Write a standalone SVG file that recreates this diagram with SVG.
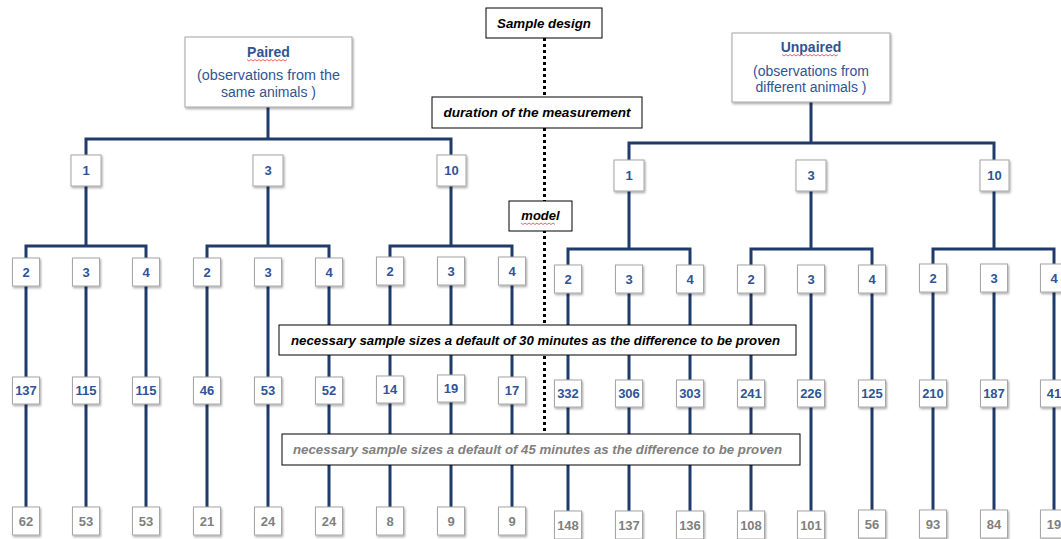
<svg xmlns="http://www.w3.org/2000/svg" width="1061" height="539" viewBox="0 0 1061 539">
<defs>
<filter id="sh" x="-30%" y="-30%" width="160%" height="160%">
<feDropShadow dx="1" dy="1.5" stdDeviation="1" flood-color="#000" flood-opacity="0.35"/>
</filter>
<style>
text{font-family:"Liberation Sans",Arial,sans-serif;text-anchor:middle;dominant-baseline:central}
.conn{fill:none;stroke:#1F3B6B;stroke-width:3}
.dot{fill:none;stroke:#000;stroke-width:3;stroke-dasharray:3 3}
.box{fill:#fff;stroke:#A6A6A6;stroke-width:1;filter:url(#sh)}
.lbl{fill:#fff;stroke:#000;stroke-width:1}
.num{fill:#2F5496;font-weight:bold;font-size:13px}
.leaf{fill:#7F7F7F;font-weight:bold;font-size:13px}
.hd{fill:#2F5496;font-weight:bold;font-size:14px}
.sub{fill:#2F5496;font-size:14px}
.it{fill:#000;font-weight:bold;font-style:italic;font-size:13px}
.itg{fill:#808080;font-weight:bold;font-style:italic;font-size:13px}
.sq{fill:none;stroke:#E04040;stroke-width:0.8}
</style>
</defs>
<rect width="1061" height="539" fill="#fff"/>

<g id="connectors">
<path class="conn" d="M268 107V139M86 160V139H451V160"/>
<path class="conn" d="M86 186V246M268 186V246M451 186V246"/>
<path class="conn" d="M26 262V246H146V262M207 262V246H329V262M390 262V246H512V262"/>
<path class="conn" d="M26 262V510M86 262V510M146 262V510M207 262V510M268 262V510M329 262V510M390 262V510M451 262V510M512 262V510"/>
<path class="conn" d="M811 102V143M629 163V143H994V163"/>
<path class="conn" d="M629 190V249M811 190V249M994 190V249"/>
<path class="conn" d="M568 268V249H690V268M751 268V249H872V268M933 268V249H1054V268"/>
<path class="conn" d="M568 268V514M629 268V514M690 268V514M751 268V514M811 268V514M872 268V514M933 268V514M994 268V514M1054 268V514"/>
<path class="dot" d="M544.5 38V434"/>
</g>

<g id="sample-design"><rect class="lbl" x="486" y="8" width="116" height="30"/><text class="it" x="544" y="23" textLength="94" lengthAdjust="spacingAndGlyphs">Sample design</text></g>
<g id="duration"><rect class="lbl" x="432" y="97" width="210" height="31"/><text class="it" x="537" y="112.5" textLength="187" lengthAdjust="spacingAndGlyphs">duration of the measurement</text></g>
<g id="model"><rect class="lbl" x="509" y="201" width="63" height="30"/><text class="it" x="540.5" y="215">model</text><path class="sq" d="M521 223l2 1.5 2-1.5 2 1.5 2-1.5 2 1.5 2-1.5 2 1.5 2-1.5 2 1.5 2-1.5 2 1.5 2-1.5 2 1.5 2-1.5 2 1.5 2-1.5 2 1.5"/></g>

<g id="paired"><rect class="box" x="185" y="37" width="167" height="70"/>
<text class="hd" x="268.5" y="52">Paired</text>
<path class="sq" d="M247 59.5l2 1.5 2-1.5 2 1.5 2-1.5 2 1.5 2-1.5 2 1.5 2-1.5 2 1.5 2-1.5 2 1.5 2-1.5 2 1.5 2-1.5 2 1.5 2-1.5 2 1.5 2-1.5 2 1.5 2-1.5"/>
<text class="sub" x="268.5" y="75" textLength="143" lengthAdjust="spacingAndGlyphs">(observations from the</text>
<text class="sub" x="268.5" y="92">same animals )</text></g>

<g id="unpaired"><rect class="box" x="732" y="33" width="158" height="69"/>
<text class="hd" x="811" y="47">Unpaired</text>
<path class="sq" d="M782 54.5l2 1.5 2-1.5 2 1.5 2-1.5 2 1.5 2-1.5 2 1.5 2-1.5 2 1.5 2-1.5 2 1.5 2-1.5 2 1.5 2-1.5 2 1.5 2-1.5 2 1.5 2-1.5 2 1.5 2-1.5 2 1.5 2-1.5 2 1.5 2-1.5 2 1.5 2-1.5 2 1.5 2-1.5"/>
<text class="sub" x="811" y="71">(observations from</text>
<text class="sub" x="811" y="87">different animals )</text></g>

<g id="p1"><rect class="box" x="71" y="155" width="30" height="31"/><text class="num" x="86" y="170.5">1</text></g>
<g id="p3"><rect class="box" x="253" y="155" width="30" height="31"/><text class="num" x="268" y="170.5">3</text></g>
<g id="p10"><rect class="box" x="437" y="155" width="29" height="31"/><text class="num" x="451.5" y="170.5">10</text></g>
<g id="u1"><rect class="box" x="614" y="160" width="30" height="31"/><text class="num" x="629" y="175.5">1</text></g>
<g id="u3"><rect class="box" x="796" y="160" width="30" height="31"/><text class="num" x="811" y="175.5">3</text></g>
<g id="u10"><rect class="box" x="980" y="160" width="29" height="31"/><text class="num" x="994.5" y="175.5">10</text></g>

<g id="p1-2"><rect class="box" x="12.5" y="258" width="27" height="28"/><text class="num" x="26" y="272">2</text></g>
<g id="p1-3"><rect class="box" x="72.5" y="258" width="27" height="28"/><text class="num" x="86" y="272">3</text></g>
<g id="p1-4"><rect class="box" x="132.5" y="258" width="27" height="28"/><text class="num" x="146" y="272">4</text></g>
<g id="p3-2"><rect class="box" x="193.5" y="258" width="27" height="28"/><text class="num" x="207" y="272">2</text></g>
<g id="p3-3"><rect class="box" x="254.5" y="258" width="27" height="28"/><text class="num" x="268" y="272">3</text></g>
<g id="p3-4"><rect class="box" x="315.5" y="258" width="27" height="28"/><text class="num" x="329" y="272">4</text></g>
<g id="p10-2"><rect class="box" x="376.5" y="257" width="27" height="28"/><text class="num" x="390" y="271">2</text></g>
<g id="p10-3"><rect class="box" x="437.5" y="257" width="27" height="28"/><text class="num" x="451" y="271">3</text></g>
<g id="p10-4"><rect class="box" x="498.5" y="257" width="27" height="28"/><text class="num" x="512" y="271">4</text></g>
<g id="u1-2"><rect class="box" x="554.5" y="265" width="27" height="28"/><text class="num" x="568" y="279">2</text></g>
<g id="u1-3"><rect class="box" x="615.5" y="265" width="27" height="28"/><text class="num" x="629" y="279">3</text></g>
<g id="u1-4"><rect class="box" x="676.5" y="265" width="27" height="28"/><text class="num" x="690" y="279">4</text></g>
<g id="u3-2"><rect class="box" x="737.5" y="265" width="27" height="28"/><text class="num" x="751" y="279">2</text></g>
<g id="u3-3"><rect class="box" x="797.5" y="265" width="27" height="28"/><text class="num" x="811" y="279">3</text></g>
<g id="u3-4"><rect class="box" x="858.5" y="265" width="27" height="28"/><text class="num" x="872" y="279">4</text></g>
<g id="u10-2"><rect class="box" x="919.5" y="264" width="27" height="28"/><text class="num" x="933" y="278">2</text></g>
<g id="u10-3"><rect class="box" x="980.5" y="264" width="27" height="28"/><text class="num" x="994" y="278">3</text></g>
<g id="u10-4"><rect class="box" x="1040.5" y="264" width="27" height="28"/><text class="num" x="1054" y="278">4</text></g>

<g id="p1-2-30"><rect class="box" x="12.5" y="377" width="27" height="27"/><text class="num" x="26" y="390.5">137</text></g>
<g id="p1-3-30"><rect class="box" x="72.5" y="377" width="27" height="27"/><text class="num" x="86" y="390.5">115</text></g>
<g id="p1-4-30"><rect class="box" x="132.5" y="377" width="27" height="27"/><text class="num" x="146" y="390.5">115</text></g>
<g id="p3-2-30"><rect class="box" x="193.5" y="377" width="27" height="27"/><text class="num" x="207" y="390.5">46</text></g>
<g id="p3-3-30"><rect class="box" x="254.5" y="377" width="27" height="27"/><text class="num" x="268" y="390.5">53</text></g>
<g id="p3-4-30"><rect class="box" x="315.5" y="377" width="27" height="27"/><text class="num" x="329" y="390.5">52</text></g>
<g id="p10-2-30"><rect class="box" x="376.5" y="376" width="27" height="27"/><text class="num" x="390" y="389.5">14</text></g>
<g id="p10-3-30"><rect class="box" x="437.5" y="375" width="27" height="27"/><text class="num" x="451" y="388.5">19</text></g>
<g id="p10-4-30"><rect class="box" x="498.5" y="377" width="27" height="27"/><text class="num" x="512" y="390.5">17</text></g>
<g id="u1-2-30"><rect class="box" x="554.5" y="380" width="27" height="27"/><text class="num" x="568" y="393.5">332</text></g>
<g id="u1-3-30"><rect class="box" x="615.5" y="380" width="27" height="27"/><text class="num" x="629" y="393.5">306</text></g>
<g id="u1-4-30"><rect class="box" x="676.5" y="380" width="27" height="27"/><text class="num" x="690" y="393.5">303</text></g>
<g id="u3-2-30"><rect class="box" x="737.5" y="380" width="27" height="27"/><text class="num" x="751" y="393.5">241</text></g>
<g id="u3-3-30"><rect class="box" x="797.5" y="380" width="27" height="27"/><text class="num" x="811" y="393.5">226</text></g>
<g id="u3-4-30"><rect class="box" x="858.5" y="380" width="27" height="27"/><text class="num" x="872" y="393.5">125</text></g>
<g id="u10-2-30"><rect class="box" x="919.5" y="380" width="27" height="27"/><text class="num" x="933" y="393.5">210</text></g>
<g id="u10-3-30"><rect class="box" x="980.5" y="380" width="27" height="27"/><text class="num" x="994" y="393.5">187</text></g>
<g id="u10-4-30"><rect class="box" x="1040.5" y="380" width="27" height="27"/><text class="num" x="1054" y="393.5">41</text></g>

<g id="p1-2-45"><rect class="box" x="12.5" y="507" width="27" height="28"/><text class="leaf" x="26" y="521">62</text></g>
<g id="p1-3-45"><rect class="box" x="72.5" y="507" width="27" height="28"/><text class="leaf" x="86" y="521">53</text></g>
<g id="p1-4-45"><rect class="box" x="132.5" y="507" width="27" height="28"/><text class="leaf" x="146" y="521">53</text></g>
<g id="p3-2-45"><rect class="box" x="193.5" y="507" width="27" height="28"/><text class="leaf" x="207" y="521">21</text></g>
<g id="p3-3-45"><rect class="box" x="254.5" y="507" width="27" height="28"/><text class="leaf" x="268" y="521">24</text></g>
<g id="p3-4-45"><rect class="box" x="315.5" y="507" width="27" height="28"/><text class="leaf" x="329" y="521">24</text></g>
<g id="p10-2-45"><rect class="box" x="376.5" y="507" width="27" height="28"/><text class="leaf" x="390" y="521">8</text></g>
<g id="p10-3-45"><rect class="box" x="437.5" y="507" width="27" height="28"/><text class="leaf" x="451" y="521">9</text></g>
<g id="p10-4-45"><rect class="box" x="498.5" y="507" width="27" height="28"/><text class="leaf" x="512" y="521">9</text></g>
<g id="u1-2-45"><rect class="box" x="554.5" y="511" width="27" height="28"/><text class="leaf" x="568" y="525">148</text></g>
<g id="u1-3-45"><rect class="box" x="615.5" y="511" width="27" height="28"/><text class="leaf" x="629" y="525">137</text></g>
<g id="u1-4-45"><rect class="box" x="676.5" y="511" width="27" height="28"/><text class="leaf" x="690" y="525">136</text></g>
<g id="u3-2-45"><rect class="box" x="737.5" y="511" width="27" height="28"/><text class="leaf" x="751" y="525">108</text></g>
<g id="u3-3-45"><rect class="box" x="797.5" y="511" width="27" height="28"/><text class="leaf" x="811" y="525">101</text></g>
<g id="u3-4-45"><rect class="box" x="858.5" y="510" width="27" height="28"/><text class="leaf" x="872" y="524">56</text></g>
<g id="u10-2-45"><rect class="box" x="919.5" y="510" width="27" height="28"/><text class="leaf" x="933" y="524">93</text></g>
<g id="u10-3-45"><rect class="box" x="980.5" y="510" width="27" height="28"/><text class="leaf" x="994" y="524">84</text></g>
<g id="u10-4-45"><rect class="box" x="1040.5" y="510" width="27" height="28"/><text class="leaf" x="1054" y="524">19</text></g>

<g id="label-30"><rect class="lbl" x="279" y="325" width="517" height="30"/><text class="it" x="535.5" y="340" textLength="489" lengthAdjust="spacingAndGlyphs">necessary sample sizes a default of 30 minutes as the difference to be proven</text></g>
<g id="label-45"><rect class="lbl" x="282" y="434" width="518" height="31"/><text class="itg" x="537.5" y="449.5" textLength="489" lengthAdjust="spacingAndGlyphs">necessary sample sizes a default of 45 minutes as the difference to be proven</text></g>
</svg>
